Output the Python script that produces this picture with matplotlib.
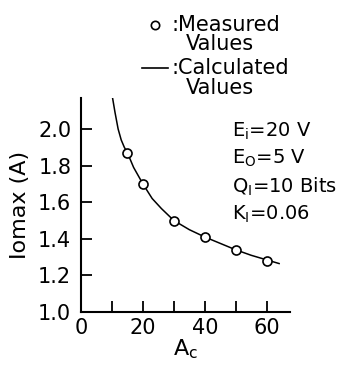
import matplotlib
matplotlib.use("Agg")
import matplotlib.pyplot as plt

# measured points
meas_ac = [15, 20, 30, 40, 50, 60]
meas_i = [1.87, 1.70, 1.50, 1.41, 1.34, 1.28]

# calculated curve
calc_ac = [10.2, 11, 12, 13, 14, 15, 17, 20, 23, 26, 30, 35, 40, 45, 50, 55, 60, 64]
calc_i = [2.17, 2.09, 2.00, 1.94, 1.90, 1.87, 1.79, 1.70, 1.62, 1.565, 1.50, 1.45,
          1.41, 1.375, 1.34, 1.31, 1.285, 1.265]

x_ticks = [0, 20, 40, 60]
x_minor = [10, 30, 50]
y_ticks = [1.0, 1.2, 1.4, 1.6, 1.8, 2.0]

params = ["E$_\\mathregular{i}$=20 V",
          "E$_\\mathregular{O}$=5 V",
          "Q$_\\mathregular{I}$=10 Bits",
          "K$_\\mathregular{I}$=0.06"]

plt.rcParams['font.family'] = ['DejaVu Sans']
fs = 15

fig = plt.figure(figsize=(3.46, 3.65), dpi=100)
ax = fig.add_axes([0.234, 0.145, 0.604, 0.587])

ax.plot(calc_ac, calc_i, color='black', lw=1.1, zorder=2)
ax.plot(meas_ac, meas_i, 'o', ms=6.5, mfc='white', mec='black', mew=1.2, zorder=3)

ax.set_xlim(0, 67.5)
ax.set_ylim(1.0, 2.17)
ax.spines['top'].set_visible(False)
ax.spines['right'].set_visible(False)
for s in ['left', 'bottom']:
    ax.spines[s].set_linewidth(1.5)

ax.set_xticks(x_ticks)
ax.set_xticks(x_minor, minor=True)
ax.set_yticks(y_ticks)
ax.set_yticklabels(["%.1f" % v for v in y_ticks])
ax.tick_params(axis='both', which='both', direction='in', length=8, width=1.3,
               labelsize=fs, pad=4)
ax.tick_params(axis='y', pad=7)

ax.set_xlabel("A$_\\mathregular{c}$", fontsize=fs + 1, labelpad=0)
ax.set_ylabel("Iomax (A)", fontsize=fs + 1, labelpad=6)

# legend at the top
ax.plot([155 / 346], [1 - 25 / 365], 'o', ms=6, mfc='white', mec='black', mew=1.2,
        transform=fig.transFigure, clip_on=False)
ax.plot([142 / 346, 168 / 346], [1 - 68 / 365, 1 - 68 / 365], color='black', lw=1.2,
        transform=fig.transFigure, clip_on=False)
fig.text(172 / 346, 1 - 25 / 365, ":Measured", fontsize=fs, va='center', ha='left')
fig.text(186 / 346, 1 - 44 / 365, "Values", fontsize=fs, va='center', ha='left')
fig.text(172 / 346, 1 - 68 / 365, ":Calculated", fontsize=fs, va='center', ha='left')
fig.text(186 / 346, 1 - 88 / 365, "Values", fontsize=fs, va='center', ha='left')

# operating conditions
for k, t in enumerate(params):
    fig.text(232 / 346, 1 - (131 + 27.7 * k) / 365, t, fontsize=fs - 1,
             va='center', ha='left')

fig.savefig("out.png", dpi=100)
